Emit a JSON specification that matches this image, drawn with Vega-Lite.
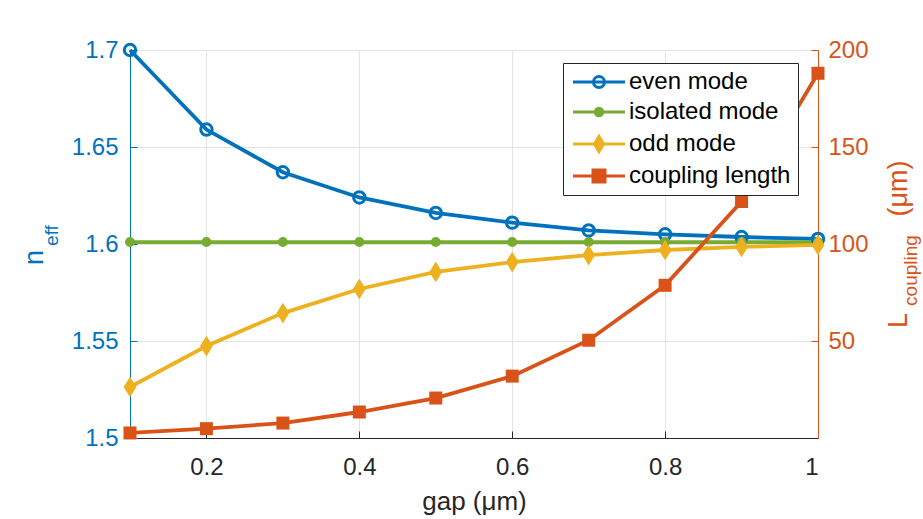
{
  "$schema": "https://vega.github.io/schema/vega-lite/v6.json",
  "width": 688,
  "height": 388,
  "autosize": {"type": "none"},
  "padding": {"left": 130, "top": 50, "right": 105, "bottom": 81},
  "background": "white",
  "config": {
    "font": "Liberation Sans",
    "view": {"stroke": null},
    "axis": {"labelFontSize": 24, "titleFontSize": 27, "titleFontWeight": "normal", "gridColor": "#e3e3e3", "gridWidth": 1, "domainWidth": 1, "tickWidth": 1}
  },
  "datasets": {
    "neff": [
      {"gap": 0.1, "series": "even mode", "value": 1.700},
      {"gap": 0.2, "series": "even mode", "value": 1.659},
      {"gap": 0.3, "series": "even mode", "value": 1.637},
      {"gap": 0.4, "series": "even mode", "value": 1.624},
      {"gap": 0.5, "series": "even mode", "value": 1.616},
      {"gap": 0.6, "series": "even mode", "value": 1.611},
      {"gap": 0.7, "series": "even mode", "value": 1.607},
      {"gap": 0.8, "series": "even mode", "value": 1.605},
      {"gap": 0.9, "series": "even mode", "value": 1.6036},
      {"gap": 1.0, "series": "even mode", "value": 1.6026},
      {"gap": 0.1, "series": "isolated mode", "value": 1.601},
      {"gap": 0.2, "series": "isolated mode", "value": 1.601},
      {"gap": 0.3, "series": "isolated mode", "value": 1.601},
      {"gap": 0.4, "series": "isolated mode", "value": 1.601},
      {"gap": 0.5, "series": "isolated mode", "value": 1.601},
      {"gap": 0.6, "series": "isolated mode", "value": 1.601},
      {"gap": 0.7, "series": "isolated mode", "value": 1.601},
      {"gap": 0.8, "series": "isolated mode", "value": 1.601},
      {"gap": 0.9, "series": "isolated mode", "value": 1.601},
      {"gap": 1.0, "series": "isolated mode", "value": 1.601},
      {"gap": 0.1, "series": "odd mode", "value": 1.5263},
      {"gap": 0.2, "series": "odd mode", "value": 1.5474},
      {"gap": 0.3, "series": "odd mode", "value": 1.5644},
      {"gap": 0.4, "series": "odd mode", "value": 1.5768},
      {"gap": 0.5, "series": "odd mode", "value": 1.5856},
      {"gap": 0.6, "series": "odd mode", "value": 1.5907},
      {"gap": 0.7, "series": "odd mode", "value": 1.5943},
      {"gap": 0.8, "series": "odd mode", "value": 1.5969},
      {"gap": 0.9, "series": "odd mode", "value": 1.5985},
      {"gap": 1.0, "series": "odd mode", "value": 1.5995}
    ],
    "coupling": [
      {"gap": 0.1, "series": "coupling length", "value": 2.6},
      {"gap": 0.2, "series": "coupling length", "value": 4.8},
      {"gap": 0.3, "series": "coupling length", "value": 7.7},
      {"gap": 0.4, "series": "coupling length", "value": 13.4},
      {"gap": 0.5, "series": "coupling length", "value": 20.6},
      {"gap": 0.6, "series": "coupling length", "value": 31.9},
      {"gap": 0.7, "series": "coupling length", "value": 50.4},
      {"gap": 0.8, "series": "coupling length", "value": 78.7},
      {"gap": 0.9, "series": "coupling length", "value": 121.9},
      {"gap": 1.0, "series": "coupling length", "value": 188}
    ]
  },
  "encoding": {
    "x": {
      "field": "gap", "type": "quantitative",
      "scale": {"domain": [0.1, 1], "nice": false, "zero": false},
      "axis": {
        "values": [0.2, 0.4, 0.6, 0.8, 1], "format": ".1~f",
        "labelColor": "#262626", "domainColor": "#262626", "tickColor": "#262626",
        "tickSize": -7, "labelPadding": 24, "grid": true,
        "title": "gap (μm)", "titleFontSize": 26, "titleColor": "#262626", "titlePadding": 9
      }
    }
  },
  "layer": [
    {
      "data": {"name": "neff"},
      "encoding": {
        "y": {
          "field": "value", "type": "quantitative",
          "scale": {"domain": [1.5, 1.7], "nice": false, "zero": false},
          "axis": {
            "orient": "left", "values": [1.5, 1.55, 1.6, 1.65, 1.7], "format": ".2~f",
            "labelColor": "#0072BD", "domainColor": "#0072BD", "tickColor": "#0072BD",
            "tickSize": -7, "labelPadding": 19, "grid": true,
            "title": "n", "titleColor": "#0072BD", "titleAngle": 270, "titleAlign": "center", "titleBaseline": "middle",
            "titleX": -96, "titleY": 207
          }
        }
      },
      "layer": [
        {
          "mark": {"type": "line", "strokeWidth": 3.8},
          "encoding": {
            "color": {"field": "series", "type": "nominal", "legend": null,
              "scale": {"domain": ["even mode", "isolated mode", "odd mode"], "range": ["#0072BD", "#77AC30", "#EDB120"]}}
          }
        },
        {
          "mark": {"type": "point", "strokeWidth": 3, "opacity": 1},
          "encoding": {
            "stroke": {"field": "series", "type": "nominal", "legend": null,
              "scale": {"domain": ["even mode", "isolated mode", "odd mode"], "range": ["#0072BD", "#77AC30", "#EDB120"]}},
            "fill": {"field": "series", "type": "nominal", "legend": null,
              "scale": {"domain": ["even mode", "isolated mode", "odd mode"], "range": ["transparent", "#77AC30", "#EDB120"]}},
            "shape": {"field": "series", "type": "nominal", "legend": null,
              "scale": {"domain": ["even mode", "isolated mode", "odd mode"], "range": ["circle", "circle", "M-0.62,0L0,-1L0.62,0L0,1Z"]}},
            "size": {"field": "series", "type": "nominal", "legend": null,
              "scale": {"type": "ordinal", "domain": ["even mode", "isolated mode", "odd mode"], "range": [130, 50, 225]}}
          }
        }
      ]
    },
    {
      "data": {"name": "coupling"},
      "encoding": {
        "y": {
          "field": "value", "type": "quantitative",
          "scale": {"domain": [0, 200], "nice": false, "zero": false},
          "axis": {
            "orient": "right", "values": [50, 100, 150, 200], "format": "d",
            "labelColor": "#D95319", "domainColor": "#D95319", "tickColor": "#D95319",
            "tickSize": -7, "labelPadding": 17, "grid": false,
            "title": "L", "titleColor": "#D95319", "titleAngle": 270, "titleAlign": "center", "titleBaseline": "middle",
            "titleX": 80, "titleY": 270
          }
        }
      },
      "layer": [
        {"mark": {"type": "line", "strokeWidth": 3.8, "color": "#D95319"}},
        {"mark": {"type": "point", "shape": "square", "filled": true, "size": 169, "color": "#D95319", "opacity": 1}}
      ]
    },
    {
      "data": {"name": "neff"},
      "mark": {"type": "point", "opacity": 0},
      "encoding": {
        "y": {
          "field": "value", "type": "quantitative",
          "scale": {"domain": [1.5, 1.7], "nice": false, "zero": false},
          "axis": {
            "orient": "left", "domain": false, "ticks": false, "labels": false, "grid": false,
            "title": "eff", "titleFontSize": 19, "titleColor": "#0072BD", "titleAngle": 270, "titleAlign": "center", "titleBaseline": "middle",
            "titleX": -79, "titleY": 185
          }
        }
      }
    },
    {
      "data": {"name": "coupling"},
      "mark": {"type": "point", "opacity": 0},
      "encoding": {
        "y": {
          "field": "value", "type": "quantitative",
          "scale": {"domain": [0, 200], "nice": false, "zero": false},
          "axis": {
            "orient": "right", "domain": false, "ticks": false, "labels": false, "grid": false,
            "title": "coupling", "titleFontSize": 19, "titleColor": "#D95319", "titleAngle": 270, "titleAlign": "center", "titleBaseline": "middle",
            "titleX": 92, "titleY": 220
          }
        }
      }
    },
    {
      "data": {"name": "coupling"},
      "mark": {"type": "point", "opacity": 0},
      "encoding": {
        "y": {
          "field": "value", "type": "quantitative",
          "scale": {"domain": [0, 200], "nice": false, "zero": false},
          "axis": {
            "orient": "right", "domain": false, "ticks": false, "labels": false, "grid": false,
            "title": "(μm)", "titleColor": "#D95319", "titleAngle": 270, "titleAlign": "center", "titleBaseline": "middle",
            "titleX": 80, "titleY": 138
          }
        }
      }
    },
    {
      "data": {"name": "neff"},
      "transform": [{"filter": "false"}],
      "mark": {"type": "point", "strokeWidth": 3, "opacity": 1},
      "encoding": {
        "y": {"field": "value", "type": "quantitative", "axis": null, "scale": {"domain": [1.5, 1.7]}},
        "stroke": {"field": "series", "type": "nominal", "title": null,
          "scale": {"domain": ["even mode", "isolated mode", "odd mode", "coupling length"], "range": ["#0072BD", "#77AC30", "#EDB120", "#D95319"]},
          "legend": {"orient": "none", "legendX": 433, "legendY": 13, "fillColor": "white", "strokeColor": "#262626", "padding": 7,
            "symbolSize": 400, "symbolStrokeWidth": 3, "labelFontSize": 24, "labelColor": "#000000", "labelOffset": 35, "rowPadding": 6, "labelLimit": 300}},
        "fill": {"field": "series", "type": "nominal", "title": null,
          "scale": {"domain": ["even mode", "isolated mode", "odd mode", "coupling length"], "range": ["transparent", "#77AC30", "#EDB120", "#D95319"]},
          "legend": {"orient": "none", "legendX": 433, "legendY": 13, "fillColor": "white", "strokeColor": "#262626", "padding": 7,
            "symbolSize": 400, "symbolStrokeWidth": 3, "labelFontSize": 24, "labelColor": "#000000", "labelOffset": 35, "rowPadding": 6, "labelLimit": 300}},
        "shape": {"field": "series", "type": "nominal", "title": null,
          "scale": {"domain": ["even mode", "isolated mode", "odd mode", "coupling length"], "range": [
            "M-0.9,0H4.3M1.15,0A0.55,0.55,0,1,0,2.25,0A0.55,0.55,0,1,0,1.15,0Z",
            "M-0.9,0H4.3M1.32,0A0.38,0.38,0,1,0,2.08,0A0.38,0.38,0,1,0,1.32,0Z",
            "M-0.9,0H4.3M1.25,0L1.7,-0.75L2.15,0L1.7,0.75Z",
            "M-0.9,0H4.3M1.1,-0.6H2.3V0.6H1.1Z"]},
          "legend": {"orient": "none", "legendX": 433, "legendY": 13, "fillColor": "white", "strokeColor": "#262626", "padding": 7,
            "symbolSize": 400, "symbolStrokeWidth": 3, "labelFontSize": 24, "labelColor": "#000000", "labelOffset": 35, "rowPadding": 6, "labelLimit": 300}}
      }
    }
  ],
  "resolve": {"scale": {"y": "independent", "color": "independent", "stroke": "independent", "fill": "independent", "shape": "independent", "size": "independent"}}
}
